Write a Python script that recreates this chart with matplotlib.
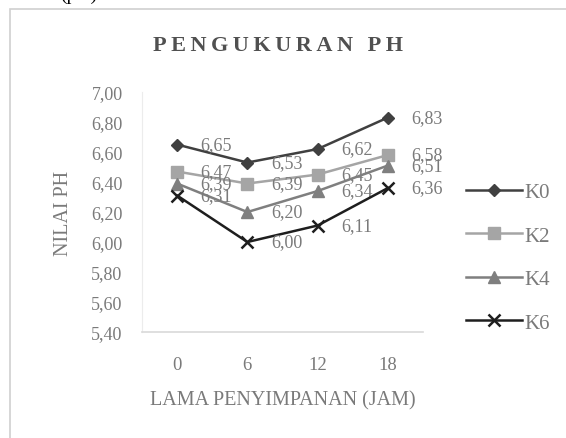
import matplotlib
matplotlib.use("Agg")
import matplotlib.pyplot as plt
from matplotlib.patches import Rectangle
from matplotlib.ticker import FuncFormatter

plt.rcParams["font.family"] = ["Liberation Serif", "DejaVu Serif"]

# lama penyimpanan (jam) dan nilai pH tiap perlakuan
JAM = ["0", "6", "12", "18"]
SERIES = ["K0", "K2", "K4", "K6"]
K0 = [6.65, 6.53, 6.62, 6.83]
K2 = [6.47, 6.39, 6.45, 6.58]
K4 = [6.39, 6.20, 6.34, 6.51]
K6 = [6.31, 6.00, 6.11, 6.36]
VALUES = [K0, K2, K4, K6]

STYLE = {
    "K0": dict(color="#404040", marker="D", ms=6.5),
    "K2": dict(color="#a5a5a5", marker="s", ms=8),
    "K4": dict(color="#7f7f7f", marker="^", ms=8),
    "K6": dict(color="#1e1e1e", marker="x", ms=9, mew=1.8),
}
TXT = "#7a7a7a"


def comma(v, _pos=None):
    return f"{v:.2f}".replace(".", ",")


fig = plt.figure(figsize=(5.66, 4.39), dpi=100)
fig.patch.set_facecolor("white")
ax = fig.add_axes([0.2509, 0.2415, 0.4964, 0.5465])

# chart area border
fig.add_artist(Rectangle((10 / 566, -0.05), 1.2, 1 - 10 / 439 + 0.05,
                         transform=fig.transFigure, fill=False,
                         edgecolor="#d0d0d0", lw=1.2))
# potongan teks dokumen di atas grafik
fig.text(60 / 566, 1.0 + 5 / 439, "(pH)", ha="left", va="center", fontsize=14,
         color="black")

x = range(len(JAM))
for name, vals in zip(SERIES, VALUES):
    st = STYLE[name]
    ax.plot(x, vals, color=st["color"], lw=1.8, marker=st["marker"],
            ms=st["ms"], mew=st.get("mew", 1), label=name, zorder=3)
    for i, v in zip(x, vals):
        ax.annotate(comma(v), (i, v), xytext=(17, 0), textcoords="offset points",
                    ha="left", va="center", fontsize=13, color=TXT)

ax.set_xlim(-0.5, 3.5)
ax.set_ylim(5.4, 7.0)
ax.set_yticks([5.4 + 0.2 * k for k in range(9)])
ax.yaxis.set_major_formatter(FuncFormatter(comma))
ax.set_xticks(list(x))
ax.set_xticklabels(JAM)
ax.tick_params(axis="y", length=0, pad=14, labelsize=13, labelcolor=TXT)
ax.tick_params(axis="x", length=0, pad=17, labelsize=13.5, labelcolor=TXT)

for s in ("top", "right"):
    ax.spines[s].set_visible(False)
ax.spines["left"].set_color("#ececec")
ax.spines["bottom"].set_color("#d9d9d9")
ax.spines["bottom"].set_linewidth(1.2)

ax.set_ylabel("NILAI PH", color=TXT, fontsize=14.5, labelpad=13)
ax.set_xlabel("LAMA PENYIMPANAN (JAM)", color=TXT, fontsize=14.5, labelpad=13)
title = "\u2009".join("PENGUKURAN PH")
fig.text(278 / 566, 1 - 46 / 439, title, ha="center", va="center",
         fontsize=16, fontweight="bold", color="#505050")

ax.legend(loc="center left", bbox_to_anchor=(1.085, 0.31), frameon=False,
          fontsize=15, handlelength=2.7, labelspacing=1.15, handletextpad=0.1,
          labelcolor=TXT)

fig.savefig("out.png", dpi=100, facecolor="white")
